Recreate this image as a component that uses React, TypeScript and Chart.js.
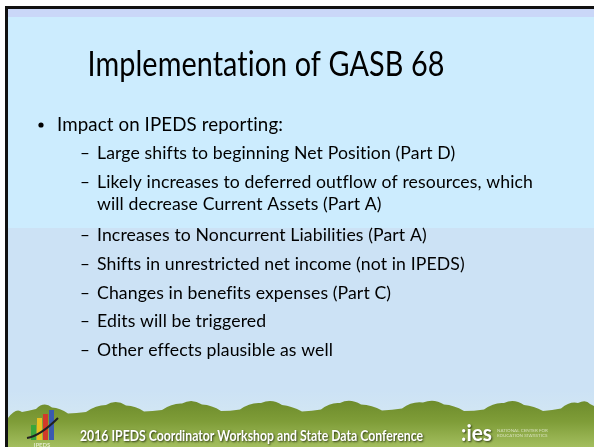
import React, { useEffect, useRef } from "react";
import { Chart, registerables } from "chart.js";

Chart.register(...registerables);

// ---- Content ----
const TITLE = "Implementation of GASB 68";
const LEVEL1_ITEMS: string[] = ["Impact on IPEDS reporting:"];
const LEVEL2_ITEMS: string[][] = [
  ["Large shifts to beginning Net Position (Part D)"],
  ["Likely increases to deferred outflow of resources, which", "will decrease Current Assets (Part A)"],
  ["Increases to Noncurrent Liabilities (Part A)"],
  ["Shifts in unrestricted net income (not in IPEDS)"],
  ["Changes in benefits expenses (Part C)"],
  ["Edits will be triggered"],
  ["Other effects plausible as well"],
];
const FOOTER_TEXT = "2016 IPEDS Coordinator Workshop and State Data Conference";
const LOGO_TEXT = ":ies";
const LOGO_CAPTION: string[] = ["NATIONAL CENTER FOR", "EDUCATION STATISTICS"];
const IPEDS_LABEL = "IPEDS";

const W = 594;
const H = 447;
const FONT = "Lato, 'Open Sans', 'DejaVu Sans', sans-serif";

function drawScaled(ctx: CanvasRenderingContext2D, text: string, x: number, y: number, sx: number, align: CanvasTextAlign = "left") {
  ctx.save();
  ctx.translate(x, y);
  ctx.scale(sx, 1);
  ctx.textAlign = align;
  ctx.textBaseline = "alphabetic";
  ctx.fillText(text, 0, 0);
  ctx.restore();
}

const slidePlugin = {
  id: "slide",
  beforeDraw(chart: any) {
    const ctx: CanvasRenderingContext2D = chart.ctx;
    ctx.save();
    ctx.fillStyle = "#ffffff";
    ctx.fillRect(0, 0, W, H);
    // body panels
    ctx.fillStyle = "#cad7f8";
    ctx.fillRect(8, 9, W - 8, 8);
    ctx.fillStyle = "#ccecfe";
    ctx.fillRect(8, 17, W - 8, 211);
    ctx.fillStyle = "#cce2f5";
    ctx.fillRect(8, 228, W - 8, H - 228);
    // footer sky
    const sky = ctx.createLinearGradient(0, 390, 0, 420);
    sky.addColorStop(0, "#cce2f5");
    sky.addColorStop(1, "#d3e7f3");
    ctx.fillStyle = sky;
    ctx.fillRect(8, 390, W - 8, 57);
    // tree line
    const pts: number[][] = [
      [8, 418], [16, 410], [28, 414], [44, 404], [60, 411], [76, 416], [96, 408], [116, 402],
      [136, 409], [152, 414], [172, 406], [192, 401], [212, 408], [230, 414], [250, 405], [272, 401],
      [292, 409], [312, 414], [330, 405], [350, 401], [372, 408], [392, 413], [412, 404], [434, 401],
      [454, 408], [474, 414], [494, 405], [514, 401], [534, 409], [552, 413], [570, 404], [586, 402], [594, 406],
    ];
    ctx.beginPath();
    ctx.moveTo(8, H);
    ctx.lineTo(pts[0][0], pts[0][1]);
    for (let i = 1; i < pts.length - 1; i++) {
      const mx = (pts[i][0] + pts[i + 1][0]) / 2;
      const my = (pts[i][1] + pts[i + 1][1]) / 2;
      ctx.quadraticCurveTo(pts[i][0], pts[i][1] - 3, mx, my);
    }
    ctx.lineTo(W, pts[pts.length - 1][1]);
    ctx.lineTo(W, H);
    ctx.closePath();
    const g = ctx.createLinearGradient(0, 401, 0, H);
    g.addColorStop(0, "#6e8c2c");
    g.addColorStop(0.45, "#7f9d38");
    g.addColorStop(1, "#a3be5e");
    ctx.fillStyle = g;
    ctx.fill();
    // black frame
    ctx.fillStyle = "#111111";
    ctx.fillRect(5, 6, W - 5, 3);
    ctx.fillRect(5, 6, 3, H - 6);
    ctx.restore();
  },
  afterDraw(chart: any) {
    const ctx: CanvasRenderingContext2D = chart.ctx;
    ctx.save();
    // title (tiny letter spacing avoids the "ti" ligature)
    ctx.fillStyle = "#000000";
    (ctx as any).letterSpacing = "0.1px";
    ctx.font = `35px ${FONT}`;
    const tsx = 357 / ctx.measureText(TITLE).width;
    drawScaled(ctx, TITLE, 266, 76, tsx, "center");

    // level 1
    ctx.font = `17px ${FONT}`;
    const subSx = 436 / ctx.measureText(LEVEL2_ITEMS[1][0]).width;
    ctx.font = `18.5px ${FONT}`;
    const mainSx = 226 / ctx.measureText(LEVEL1_ITEMS[0]).width;
    LEVEL1_ITEMS.forEach((t) => {
      ctx.beginPath();
      ctx.arc(41, 125, 2.6, 0, Math.PI * 2);
      ctx.fill();
      drawScaled(ctx, t, 57, 131, mainSx);
    });

    // level 2
    ctx.font = `17px ${FONT}`;
    const baselines = [159, 188, 210, 241, 270, 299, 327, 356];
    let li = 0;
    LEVEL2_ITEMS.forEach((lines) => {
      lines.forEach((t, j) => {
        const y = baselines[li++];
        if (j === 0) drawScaled(ctx, "\u2013", 80, y, 1);
        drawScaled(ctx, t, 97, y, subSx);
      });
    });
    (ctx as any).letterSpacing = "0px";

    // IPEDS logo bars
    const bars = [
      { x: 31, top: 425, c: "#3aa63a" },
      { x: 37, top: 418, c: "#e8c020" },
      { x: 43, top: 414, c: "#d23a2a" },
      { x: 49, top: 410, c: "#3a5ab0" },
    ];
    bars.forEach((b) => {
      ctx.fillStyle = b.c;
      ctx.fillRect(b.x, b.top, 5, 440 - b.top);
    });
    ctx.strokeStyle = "#222222";
    ctx.lineWidth = 2;
    ctx.beginPath();
    ctx.moveTo(27, 438);
    ctx.quadraticCurveTo(40, 436, 58, 418);
    ctx.stroke();
    ctx.fillStyle = "#dfe8c8";
    ctx.font = `bold 6px ${FONT}`;
    drawScaled(ctx, IPEDS_LABEL, 42, 447, 1, "center");

    // footer text
    ctx.font = `bold 15px ${FONT}`;
    const fsx = 343 / ctx.measureText(FOOTER_TEXT).width;
    ctx.shadowColor = "rgba(30,40,10,0.85)";
    ctx.shadowOffsetX = 1;
    ctx.shadowOffsetY = 1;
    ctx.shadowBlur = 2;
    ctx.fillStyle = "#ffffff";
    drawScaled(ctx, FOOTER_TEXT, 80, 441, fsx);

    // ies logo
    ctx.font = `bold 22px ${FONT}`;
    drawScaled(ctx, LOGO_TEXT, 461, 441, 0.95);
    ctx.shadowColor = "transparent";
    ctx.fillStyle = "rgba(235,240,220,0.75)";
    ctx.font = `4.5px ${FONT}`;
    LOGO_CAPTION.forEach((t, i) => drawScaled(ctx, t, 497, 432 + i * 5, 1));
    ctx.restore();
  },
};

export default function App() {
  const ref = useRef<HTMLCanvasElement | null>(null);
  useEffect(() => {
    document.body.style.margin = "0";
    const canvas = ref.current!;
    const chart = new Chart(canvas, {
      type: "bar",
      data: { labels: [], datasets: [] },
      options: {
        animation: false,
        responsive: false,
        maintainAspectRatio: false,
        events: [],
        scales: { x: { display: false }, y: { display: false } },
        plugins: { legend: { display: false }, tooltip: { enabled: false }, title: { display: false } },
      },
      plugins: [slidePlugin],
    });
    (document as any).fonts?.ready?.then(() => chart.draw());
    return () => chart.destroy();
  }, []);
  return (
    <div style={{ position: "absolute", left: 0, top: 0, width: W, height: H }}>
      <canvas ref={ref} width={W} height={H} style={{ width: W, height: H, display: "block" }} />
    </div>
  );
}
